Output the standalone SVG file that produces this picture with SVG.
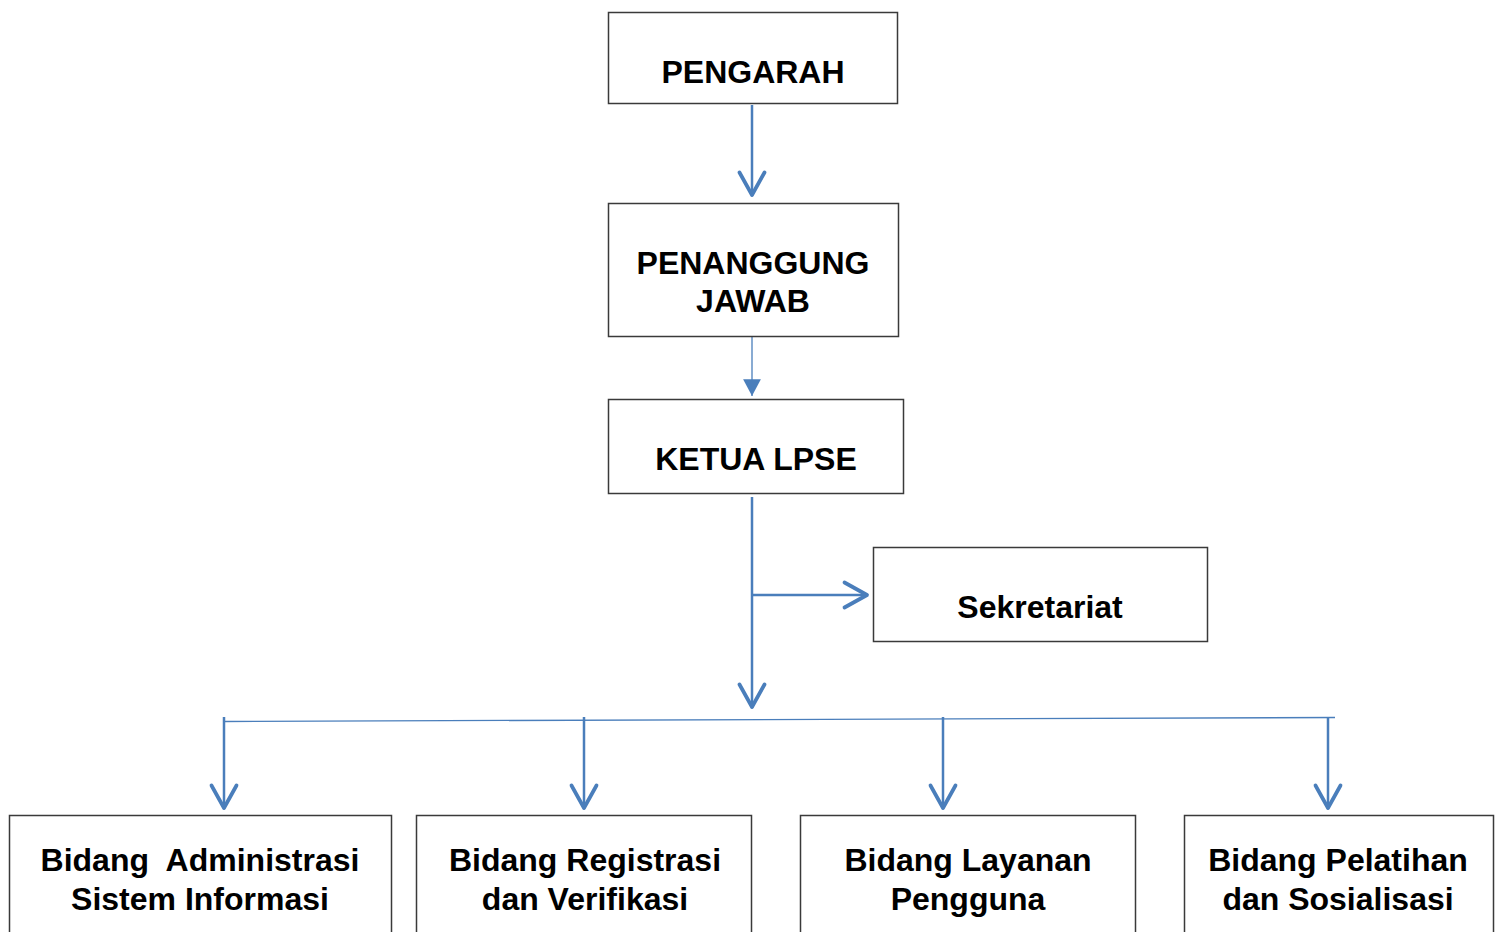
<svg xmlns="http://www.w3.org/2000/svg" width="1501" height="932" viewBox="0 0 1501 932">
<style>
.box{fill:#fff;stroke:#3a3a3a;stroke-width:1.5}
.t{font-family:"Liberation Sans",Arial,sans-serif;font-weight:bold;font-size:32px;fill:#000;text-anchor:middle}
.c{stroke:#4a7ebb;fill:none;stroke-width:2.5}
.thin{stroke:#4a7ebb;fill:none;stroke-width:1.3}
</style>
<defs>
<marker id="v" markerUnits="userSpaceOnUse" markerWidth="30" markerHeight="30" viewBox="-20 -12 22 24" refX="0" refY="0" orient="auto" overflow="visible">
<path d="M-18,-10 L0,0 L-18,10" fill="none" stroke="#4a7ebb" stroke-width="3" stroke-linejoin="round" stroke-linecap="round"/>
</marker>
<marker id="tri" markerUnits="userSpaceOnUse" markerWidth="20" markerHeight="20" viewBox="-16 -9 17 18" refX="0" refY="0" orient="auto" overflow="visible">
<path d="M-15,-8 L0,0 L-15,8 Z" fill="#4a7ebb"/>
</marker>
</defs>
<rect width="1501" height="932" fill="#fff"/>
<g id="connectors">
<line class="c" x1="752" y1="105" x2="752" y2="195" marker-end="url(#v)"/>
<line class="thin" x1="752" y1="337" x2="752" y2="396" marker-end="url(#tri)"/>
<line class="c" x1="752" y1="497" x2="752" y2="707" marker-end="url(#v)"/>
<line class="c" x1="752" y1="595" x2="867" y2="595" marker-end="url(#v)"/>
<line class="thin" x1="224" y1="721.5" x2="1335" y2="717.5"/>
<line class="c" x1="224" y1="717" x2="224" y2="808" marker-end="url(#v)"/>
<line class="c" x1="584" y1="717" x2="584" y2="808" marker-end="url(#v)"/>
<line class="c" x1="943" y1="717" x2="943" y2="808" marker-end="url(#v)"/>
<line class="c" x1="1328" y1="717" x2="1328" y2="808" marker-end="url(#v)"/>
</g>
<g id="pengarah">
<rect class="box" x="608.5" y="12.5" width="289" height="91"/>
<text class="t" x="753" y="83">PENGARAH</text>
</g>
<g id="penanggung-jawab">
<rect class="box" x="608.5" y="203.5" width="290" height="133"/>
<text class="t" x="753" y="274">PENANGGUNG</text>
<text class="t" x="753" y="312">JAWAB</text>
</g>
<g id="ketua-lpse">
<rect class="box" x="608.5" y="399.5" width="295" height="94"/>
<text class="t" x="756" y="470">KETUA LPSE</text>
</g>
<g id="sekretariat">
<rect class="box" x="873.5" y="547.5" width="334" height="94"/>
<text class="t" x="1040" y="618">Sekretariat</text>
</g>
<g id="bidang-asi">
<rect class="box" x="9.5" y="815.5" width="382" height="140"/>
<text class="t" x="200" y="871" xml:space="preserve">Bidang  Administrasi</text>
<text class="t" x="200" y="910">Sistem Informasi</text>
</g>
<g id="bidang-rv">
<rect class="box" x="416.5" y="815.5" width="335" height="140"/>
<text class="t" x="585" y="871">Bidang Registrasi</text>
<text class="t" x="585" y="910">dan Verifikasi</text>
</g>
<g id="bidang-lp">
<rect class="box" x="800.5" y="815.5" width="335" height="140"/>
<text class="t" x="968" y="871">Bidang Layanan</text>
<text class="t" x="968" y="910">Pengguna</text>
</g>
<g id="bidang-ps">
<rect class="box" x="1184.5" y="815.5" width="309" height="140"/>
<text class="t" x="1338" y="871">Bidang Pelatihan</text>
<text class="t" x="1338" y="910">dan Sosialisasi</text>
</g>
</svg>
